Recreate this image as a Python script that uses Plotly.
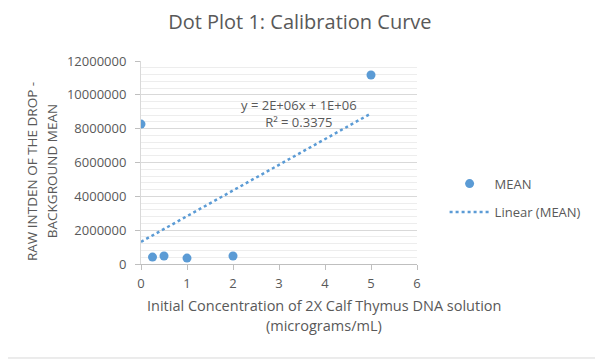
import numpy as np
import plotly.graph_objects as go

# Data
concentration = [0, 0.25, 0.5, 1, 2, 5]
mean_values = [8270000, 410000, 470000, 350000, 470000, 11170000]
y_ticks = [0, 2000000, 4000000, 6000000, 8000000, 10000000, 12000000]
x_ticks = [0, 1, 2, 3, 4, 5, 6]
equation_text = "y = 2E+06x + 1E+06<br>R² = 0.3375"
x_title_lines = ["Initial Concentration of 2X Calf Thymus DNA solution", "(micrograms/mL)"]
y_title_lines = ["RAW INTDEN OF THE DROP -", "BACKGROUND MEAN"]

# Linear fit computed from the data
slope, intercept = np.polyfit(concentration, mean_values, 1)
fit_x = np.linspace(min(concentration), max(concentration), 60)
fit_y = slope * fit_x + intercept

BLUE = "#5B9BD5"
TXT = "#595959"
FONT = "Open Sans, Noto Sans, sans-serif"

fig = go.Figure()
fig.add_trace(go.Scatter(
    x=concentration, y=mean_values, mode="markers", name="MEAN",
    marker=dict(color=BLUE, size=9), legend="legend", showlegend=True,
))
fig.add_trace(go.Scatter(
    x=fit_x, y=fit_y, mode="lines", name="Linear (MEAN)",
    line=dict(color=BLUE, width=2.5, dash="dot"), legend="legend2", showlegend=True,
))

fig.add_annotation(
    x=3.43, y=8870000, xref="x", yref="y", text=equation_text,
    showarrow=False, align="center",
    font=dict(family=FONT, size=13, color=TXT),
)

# Axis titles (Excel places them off-centre, two lines with wide spacing)
for text, ypos in zip(x_title_lines, [-0.202, -0.305]):
    fig.add_annotation(x=0.663, y=ypos, xref="paper", yref="paper", text=text,
                       showarrow=False, xanchor="center", yanchor="middle",
                       font=dict(family=FONT, size=14.5, color=TXT))
for text, xpos in zip(y_title_lines, [-0.395, -0.322]):
    fig.add_annotation(x=xpos, y=0.458, xref="paper", yref="paper", text=text,
                       showarrow=False, xanchor="center", yanchor="middle", textangle=-90,
                       font=dict(family=FONT, size=13.5, color=TXT))

# Chart border
fig.add_shape(type="rect", xref="paper", yref="paper",
              x0=-0.507, x1=1.663, y0=-0.463, y1=1.30,
              line=dict(color="#D9D9D9", width=1), layer="below")

# page body adds an 8px offset; margins compensate for it
fig.update_layout(
    width=603, height=360,
    margin=dict(l=133, r=194, t=53, b=104, autoexpand=False),
    paper_bgcolor="white", plot_bgcolor="white",
    font=dict(family=FONT, color=TXT),
    showlegend=True,
    title=dict(text="Dot Plot 1: Calibration Curve", x=0.484, xanchor="center",
               y=0.961, yanchor="middle",
               font=dict(family=FONT, size=20, color=TXT)),
    legend=dict(x=1.1, y=0.396, xanchor="left", yanchor="middle", itemwidth=40,
                font=dict(family=FONT, size=13, color=TXT), bgcolor="rgba(0,0,0,0)"),
    legend2=dict(x=1.1, y=0.256, xanchor="left", yanchor="middle", itemwidth=40,
                 font=dict(family=FONT, size=13, color=TXT), bgcolor="rgba(0,0,0,0)"),
    xaxis=dict(
        range=[0, 6], tickvals=x_ticks, ticks="outside", ticklen=5,
        tickcolor="#BFBFBF", showgrid=False, showline=True, linecolor="#BFBFBF",
        zeroline=False, automargin=False, ticklabelstandoff=2,
        tickfont=dict(family=FONT, size=13, color=TXT),
    ),
    yaxis=dict(
        range=[0, 12000000], tickvals=y_ticks, ticks="outside", ticklen=5,
        tickcolor="#BFBFBF", showgrid=True, gridcolor="#D9D9D9",
        showline=True, linecolor="#D9D9D9", zeroline=False, automargin=False,
        tickformat="d", ticklabelstandoff=6,
        tickfont=dict(family=FONT, size=13, color=TXT),
        minor=dict(dtick=400000, showgrid=True, gridcolor="#EDEDED"),
    ),
)

fig.write_html("out.html")
